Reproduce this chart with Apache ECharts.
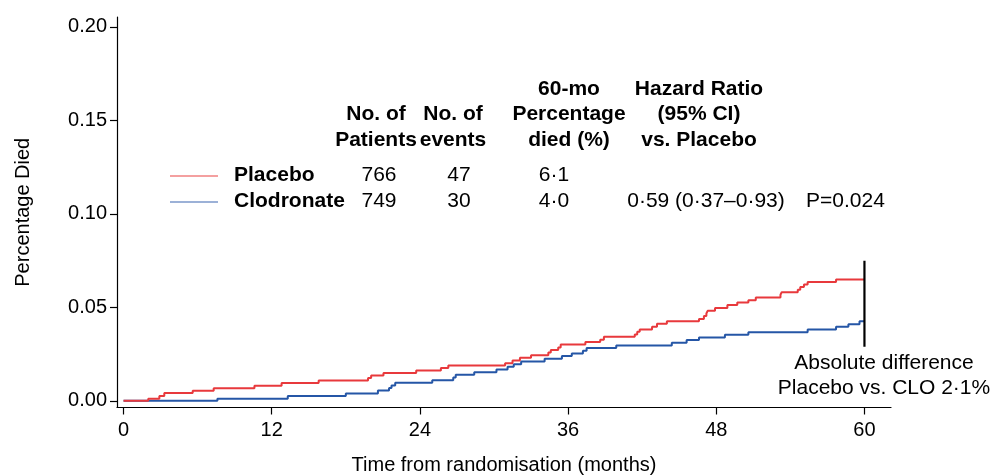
<!DOCTYPE html>
<html>
<head>
<meta charset="utf-8">
<script src="https://cdn.jsdelivr.net/npm/echarts@6/dist/echarts.min.js"></script>
<style>html,body{margin:0;padding:0;background:#fff}#c{width:994px;height:475px}</style>
</head>
<body>
<div id="c"></div>
<script>
// ---- data ----
var xTicks = [0, 12, 24, 36, 48, 60];
var yTicks = [0, 0.05, 0.10, 0.15, 0.20];

var placeboTimes = [0, 2.0, 2.9, 3.3, 5.6, 7.3, 10.6, 12.8, 15.8, 19.8, 20.05, 21.05, 23.7, 25.7, 26.3, 30.9, 31.5, 32.1, 33.0, 34.4, 34.6, 35.2, 35.4, 37.4, 38.6, 38.9, 41.4, 41.6, 41.8, 42.8, 43.2, 44.0, 46.6, 47.0, 47.2, 47.3, 47.9, 48.9, 49.7, 50.6, 51.2, 53.2, 53.3, 54.6, 54.8, 55.1, 55.4, 57.7, 60];
var placeboValues = [0, 0.0011, 0.0025, 0.0041, 0.0053, 0.0067, 0.008, 0.0095, 0.0108, 0.0122, 0.0135, 0.0148, 0.0162, 0.0175, 0.0189, 0.0201, 0.0216, 0.023, 0.0244, 0.0258, 0.0271, 0.0285, 0.0301, 0.0314, 0.0326, 0.0342, 0.0355, 0.0369, 0.0381, 0.0396, 0.0412, 0.0426, 0.0438, 0.0453, 0.0467, 0.0481, 0.0496, 0.0512, 0.0526, 0.0538, 0.0552, 0.0567, 0.0581, 0.0594, 0.0608, 0.0622, 0.0635, 0.0649, 0.0649];

var clodronateTimes = [0, 7.6, 13.3, 18.0, 20.6, 21.5, 21.7, 22.0, 25.0, 26.7, 26.9, 28.4, 30.2, 31.1, 31.6, 32.2, 34.1, 35.5, 36.3, 37.2, 37.5, 39.9, 44.4, 45.6, 46.6, 48.7, 50.6, 55.4, 57.7, 58.7, 59.6, 60];
var clodronateValues = [0, 0.0011, 0.0025, 0.0039, 0.0055, 0.0068, 0.0082, 0.0096, 0.011, 0.0125, 0.0139, 0.0153, 0.0167, 0.0182, 0.0196, 0.021, 0.0225, 0.0239, 0.0253, 0.0267, 0.0282, 0.0296, 0.031, 0.0325, 0.0339, 0.0353, 0.0367, 0.0381, 0.0396, 0.041, 0.0426, 0.0426];

var diffBar = [[60, 0.0289], [60, 0.0749]];

var groupNames = ['Placebo', 'Clodronate'];
var nPatients = ['766', '749'];
var nEvents = ['47', '30'];
var pctDied = ['6·1', '4·0'];
var hazard = ['', '0·59 (0·37–0·93)'];
var pValue = ['', 'P=0.024'];
var headers = [
  {lines: ['No. of', 'Patients'], x: 376},
  {lines: ['No. of', 'events'], x: 453},
  {lines: ['60-mo', 'Percentage', 'died (%)'], x: 569},
  {lines: ['Hazard Ratio', '(95% CI)', 'vs. Placebo'], x: 699}
];
var annotation = ['Absolute difference', 'Placebo vs. CLO 2·1%'];

// ---- build ----
function zip(a, b) { return a.map(function (t, i) { return [t, b[i]]; }); }

var FONT = '"Liberation Sans", Arial, Helvetica, sans-serif';
var RED = '#e8393c', BLUE = '#2556a6';

var graphics = [];
headers.forEach(function (h) {
  var n = h.lines.length;
  h.lines.forEach(function (t, i) {
    var y = 140 - (n - 1 - i) * 25.5;
    graphics.push({type: 'text', silent: true, style: {text: t, x: h.x, y: y, font: 'bold 21px ' + FONT, fill: '#000', textAlign: 'center', textVerticalAlign: 'middle'}});
  });
});
var rowY = [175, 201];
var legendColors = ['#f08080', '#3a64b0'];
groupNames.forEach(function (g, i) {
  var y = rowY[i];
  graphics.push({type: 'line', silent: true, shape: {x1: 170, y1: y + 1, x2: 218, y2: y + 1}, style: {stroke: legendColors[i], lineWidth: i === 0 ? 1.6 : 1.2}});
  graphics.push({type: 'text', silent: true, style: {text: g, x: 234, y: y, font: 'bold 21px ' + FONT, fill: '#000', textAlign: 'left', textVerticalAlign: 'middle'}});
  graphics.push({type: 'text', silent: true, style: {text: nPatients[i], x: 379, y: y, font: '21px ' + FONT, fill: '#000', textAlign: 'center', textVerticalAlign: 'middle'}});
  graphics.push({type: 'text', silent: true, style: {text: nEvents[i], x: 459, y: y, font: '21px ' + FONT, fill: '#000', textAlign: 'center', textVerticalAlign: 'middle'}});
  graphics.push({type: 'text', silent: true, style: {text: pctDied[i], x: 554, y: y, font: '21px ' + FONT, fill: '#000', textAlign: 'center', textVerticalAlign: 'middle'}});
  if (hazard[i]) graphics.push({type: 'text', silent: true, style: {text: hazard[i], x: 706, y: y, font: '21px ' + FONT, fill: '#000', textAlign: 'center', textVerticalAlign: 'middle'}});
  if (pValue[i]) graphics.push({type: 'text', silent: true, style: {text: pValue[i], x: 806, y: y, font: '21px ' + FONT, fill: '#000', textAlign: 'left', textVerticalAlign: 'middle'}});
});
annotation.forEach(function (t, i) {
  graphics.push({type: 'text', silent: true, style: {text: t, x: 884, y: 363 + i * 25, font: '21px ' + FONT, fill: '#000', textAlign: 'center', textVerticalAlign: 'middle'}});
});

var chart = echarts.init(document.getElementById('c'), null, {renderer: 'canvas'});
chart.setOption({
  animation: false,
  backgroundColor: '#fff',
  grid: {left: 117, right: 103, top: 17, bottom: 67.5, containLabel: false, outerBoundsMode: 'none'},
  xAxis: {
    type: 'value', min: -0.53, max: 62.15,
    name: 'Time from randomisation (months)', nameLocation: 'middle', nameGap: 48,
    nameTextStyle: {fontFamily: FONT, fontSize: 20, color: '#000'},
    axisLine: {onZero: false, lineStyle: {color: '#000', width: 1.2}},
    axisTick: {show: true, length: 7, customValues: xTicks, lineStyle: {color: '#000', width: 1.2}},
    axisLabel: {customValues: xTicks, margin: 13, fontFamily: FONT, fontSize: 20, color: '#000', formatter: function (v) { return String(v); }},
    splitLine: {show: false}
  },
  yAxis: {
    type: 'value', min: -0.0036, max: 0.2053,
    name: 'Percentage Died', nameLocation: 'middle', nameGap: 84, nameRotate: 90,
    nameTextStyle: {fontFamily: FONT, fontSize: 20, color: '#000'},
    axisLine: {onZero: false, lineStyle: {color: '#000', width: 1.2}},
    axisTick: {show: true, length: 7, customValues: yTicks, lineStyle: {color: '#000', width: 1.2}},
    axisLabel: {customValues: yTicks, margin: 10, fontFamily: FONT, fontSize: 20, color: '#000', formatter: function (v) { return v.toFixed(2); }},
    splitLine: {show: false}
  },
  series: [
    {name: 'Placebo', type: 'line', step: 'end', data: zip(placeboTimes, placeboValues), showSymbol: false, symbol: 'none', silent: true, lineStyle: {color: RED, width: 2}, z: 3},
    {name: 'Clodronate', type: 'line', step: 'end', data: zip(clodronateTimes, clodronateValues), showSymbol: false, symbol: 'none', silent: true, lineStyle: {color: BLUE, width: 2}, z: 2},
    {name: 'diff', type: 'line', data: diffBar, showSymbol: false, symbol: 'none', silent: true, lineStyle: {color: '#000', width: 2.2}, z: 4}
  ],
  graphic: graphics
});
</script>
</body>
</html>
